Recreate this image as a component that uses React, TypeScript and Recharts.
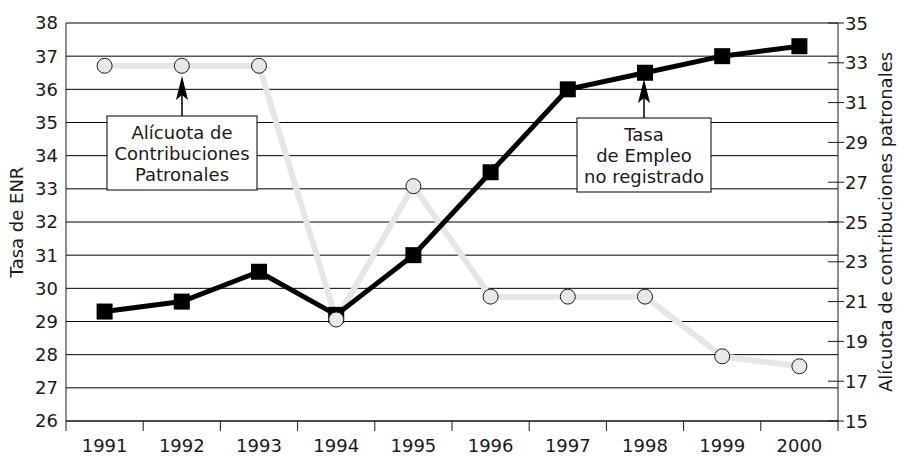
import React from 'react';
import { LineChart, Line, XAxis, YAxis, CartesianGrid } from 'recharts';

const years = ['1991', '1992', '1993', '1994', '1995', '1996', '1997', '1998', '1999', '2000'];
const tasaENR = [29.3, 29.6, 30.5, 29.2, 31.0, 33.5, 36.0, 36.5, 37.0, 37.3];
const alicuota = [32.85, 32.85, 32.85, 20.1, 26.8, 21.25, 21.25, 21.25, 18.25, 17.75];
const leftTicks = [26, 27, 28, 29, 30, 31, 32, 33, 34, 35, 36, 37, 38];
const rightTicks = [15, 17, 19, 21, 23, 25, 27, 29, 31, 33, 35];

const W = 898;
const H = 456;
const LEFT_W = 66;
const RIGHT_W = 60;
const BAND = (W - LEFT_W - RIGHT_W) / years.length;
const FONT = '"DejaVu Sans", sans-serif';
const INK = '#1a1a1a';

const data = years.map((year, i) => ({ year, tasa: tasaENR[i], alicuota: alicuota[i] }));

const XTick = (props: any) => {
  const { x, y, payload, index } = props;
  const last = index === years.length - 1;
  return (
    <g>
      <line x1={x - BAND / 2} x2={x - BAND / 2} y1={y - 10} y2={y} stroke={INK} strokeWidth={1} />
      {last && <line x1={x + BAND / 2} x2={x + BAND / 2} y1={y - 10} y2={y} stroke={INK} strokeWidth={1} />}
      <text x={x} y={y + 21} textAnchor="middle" fill={INK} fontSize={18} fontFamily={FONT}>
        {payload.value}
      </text>
    </g>
  );
};

const RightTick = (props: any) => {
  const { x, y, payload } = props;
  return (
    <g>
      <line x1={x - 16} x2={x} y1={y} y2={y} stroke={INK} strokeWidth={1} />
      <text x={x + 1} y={y + 6.5} textAnchor="start" fill={INK} fontSize={18} fontFamily={FONT}>
        {payload.value}
      </text>
    </g>
  );
};

const Square = (props: any) => {
  const { cx, cy, index } = props;
  if (cx == null || cy == null) return <g key={index} />;
  return <rect key={index} x={cx - 8} y={cy - 8} width={16} height={16} fill="#000" />;
};

const Ring = (props: any) => {
  const { cx, cy, index } = props;
  if (cx == null || cy == null) return <g key={index} />;
  return <circle key={index} cx={cx} cy={cy} r={7.5} fill="#e8e8e8" stroke={INK} strokeWidth={1} />;
};

function Callout({ cx, top, bottom, left, right, tip, lines }: any) {
  const lineH = 21;
  const first = (top + bottom) / 2 - ((lines.length - 1) * lineH) / 2 + 6.5;
  return (
    <g>
      <line x1={cx} x2={cx} y1={top} y2={tip + 18} stroke="#000" strokeWidth={1.5} />
      <path d={`M${cx},${tip} L${cx + 6},${tip + 24} L${cx},${tip + 19} L${cx - 6},${tip + 24} Z`} fill="#000" />
      <rect x={left} y={top} width={right - left} height={bottom - top} fill="#fff" stroke="#000" strokeWidth={1} />
      {lines.map((t: string, i: number) => (
        <text key={t} x={(left + right) / 2} y={first + i * lineH} textAnchor="middle" fill={INK} fontSize={18} fontFamily={FONT}>
          {t}
        </text>
      ))}
    </g>
  );
}

export default function App() {
  return (
    <div style={{ position: 'absolute', left: 0, top: 0, width: W, height: H, background: '#fff' }}>
      <LineChart width={W} height={H} data={data} margin={{ top: 23, right: 0, bottom: 0, left: 0 }}>
        <CartesianGrid yAxisId="left" vertical={false} stroke="#000" strokeWidth={1} />
        <XAxis
          dataKey="year"
          height={35}
          padding={{ left: BAND / 2, right: BAND / 2 }}
          tickLine={false}
          tickSize={10}
          tickMargin={0}
          interval={0}
          axisLine={{ stroke: INK, strokeWidth: 1 }}
          tick={<XTick />}
        />
        <YAxis
          yAxisId="left"
          orientation="left"
          width={LEFT_W}
          domain={[26, 38]}
          ticks={leftTicks}
          interval={0}
          tickLine={false}
          tickSize={0}
          tickMargin={8}
          axisLine={{ stroke: INK, strokeWidth: 1 }}
          tick={{ fill: INK, fontSize: 18, fontFamily: FONT }}
          label={{ value: 'Tasa de ENR', angle: -90, position: 'insideLeft', offset: 17, fill: INK, fontSize: 18, fontFamily: FONT, style: { textAnchor: 'middle' } }}
        />
        <YAxis
          yAxisId="right"
          orientation="right"
          width={RIGHT_W}
          domain={[15, 35]}
          ticks={rightTicks}
          interval={0}
          tickLine={false}
          tickSize={6}
          tickMargin={0}
          axisLine={{ stroke: INK, strokeWidth: 1 }}
          tick={<RightTick />}
          label={{ value: 'Alícuota de contribuciones patronales', angle: -90, position: 'insideRight', offset: 12, fill: INK, fontSize: 18, fontFamily: FONT, style: { textAnchor: 'middle' } }}
        />
        <Line yAxisId="right" dataKey="alicuota" stroke="#e6e6e6" strokeWidth={6} dot={false} isAnimationActive={false} />
        <Line yAxisId="left" dataKey="tasa" stroke="#000" strokeWidth={5} dot={<Square />} isAnimationActive={false} />
        <Line yAxisId="right" dataKey="alicuota" stroke="none" dot={<Ring />} isAnimationActive={false} />
      </LineChart>
      <svg width={W} height={H} style={{ position: 'absolute', left: 0, top: 0, pointerEvents: 'none' }}>
        <Callout cx={182} top={116} bottom={190} left={107} right={257} tip={76} lines={['Alícuota de', 'Contribuciones', 'Patronales']} />
        <Callout cx={644} top={118} bottom={192} left={577} right={711} tip={79} lines={['Tasa', 'de Empleo', 'no registrado']} />
      </svg>
    </div>
  );
}
